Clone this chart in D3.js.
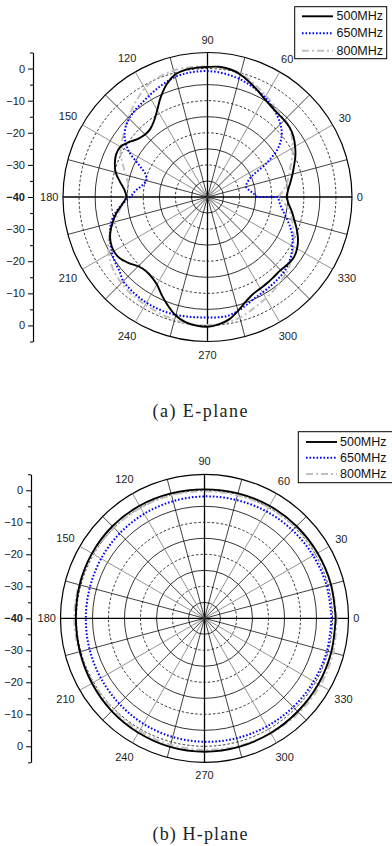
<!DOCTYPE html>
<html><head><meta charset="utf-8">
<script src="https://cdn.jsdelivr.net/npm/d3@7/dist/d3.min.js"></script>
<style>
html,body{margin:0;padding:0;background:#fff;}
svg{display:block;font-family:"Liberation Sans",Arial,sans-serif;}
</style></head><body>
<svg id="chart" width="392" height="846"></svg>
<script>
// ---------- data ----------
const seriesNames = ["500MHz", "650MHz", "800MHz"];

const eAngles = [0,5,10,15,20,25,30,35,40,45,50,55,60,65,70,75,80,85,90,95,100,105,110,115,120,125,130,135,140,145,150,155,160,165,170,175,180,185,190,195,200,205,210,215,220,225,230,235,240,245,250,255,260,265,270,275,280,285,290,295,300,305,310,315,320,325,330,335,340,345,350,355,360];

const e500 = [-15.4,-14.8,-13.8,-12.6,-11.3,-9.8,-8.5,-7.3,-6.5,-6.2,
  -6.0,-5.5,-4.6,-3.3,-1.9,-0.5,0.4,0.7,0.5,0.4,
  0.2,-0.6,-2.7,-5.6,-8.7,-11.0,-12.3,-12.5,-11.8,-10.2,
  -8.7,-8.6,-9.3,-10.4,-12.3,-14.0,-14.7,-13.3,-11.2,-9.4,
  -7.8,-6.7,-6.3,-6.7,-8.0,-9.5,-10.0,-9.6,-8.5,-6.3,
  -4.0,-1.8,-0.4,0.2,0.4,-0.2,-1.3,-3.3,-5.3,-6.6,
  -7.1,-7.4,-7.7,-7.8,-7.4,-7.2,-7.8,-8.9,-10.4,-12.0,
  -13.3,-14.6,-15.4];

const e650 = [-24.5,-25.8,-27.0,-27.6,-26.8,-24.8,-18.5,-13.0,-9.8,-7.9,
  -6.5,-5.3,-4.2,-3.4,-2.6,-1.9,-1.4,-1.0,-0.8,-0.8,
  -0.9,-1.3,-2.0,-2.8,-3.6,-4.3,-4.8,-5.5,-6.6,-8.6,
  -11.8,-16.5,-19.5,-20.3,-19.3,-17.5,-15.9,-13.3,-10.8,-8.9,
  -7.7,-6.6,-5.6,-4.8,-4.2,-2.9,-2.5,-2.2,-2.0,-1.9,
  -1.9,-2.0,-2.2,-2.4,-2.5,-2.4,-2.5,-3.3,-4.3,-5.2,
  -5.7,-6.0,-6.3,-6.6,-7.3,-8.2,-9.5,-10.8,-12.6,-14.5,
  -16.2,-17.4,-18.0];

const e800 = [-18.0,-16.3,-14.8,-13.8,-12.5,-10.9,-9.4,-7.9,-6.7,-5.9,
  -5.3,-4.5,-3.6,-2.5,-1.3,-0.1,0.4,0.6,0.6,0.7,
  0.8,0.8,0.5,0.0,-0.9,-2.3,-3.7,-5.2,-6.6,-7.8,
  -8.8,-10.3,-12.1,-13.7,-14.8,-15.0,-14.5,-13.2,-11.9,-9.8,
  -7.7,-5.9,-4.5,-3.4,-2.6,-2.1,-1.7,-1.5,-1.2,-1.0,
  -0.7,-0.4,-0.1,0.0,-0.1,-0.3,-0.6,-1.1,-2.0,-2.9,
  -3.6,-4.3,-5.0,-5.7,-6.7,-7.8,-9.1,-10.4,-11.6,-12.8,
  -14.0,-15.8,-18.0];

const hAngles = [0,15,30,45,60,75,90,105,120,135,150,165,180,195,210,225,240,255,270,285,300,315,330,345,360];
const h500 = [1.0,0.9,0.8,0.7,0.6,0.4,0.3,0.4,0.6,0.7,0.6,0.4,0.2,0.3,0.6,1.0,1.3,1.6,1.7,1.6,1.4,1.2,1.1,1.0,1.0];
const h650 = [-0.3,-0.5,-0.8,-1.1,-1.4,-1.7,-1.9,-2.1,-2.3,-2.5,-2.7,-2.9,-2.9,-2.8,-2.6,-2.3,-1.9,-1.6,-1.4,-1.2,-1.0,-0.8,-0.6,-0.4,-0.3];
const h800 = [1.3,1.0,0.6,0.3,0.0,-0.2,-0.3,-0.2,-0.1,0.0,0.3,0.6,0.7,0.5,0.2,0.3,0.6,0.9,1.1,1.3,1.5,1.7,1.8,1.6,1.3];

const angleLabels = [0,30,60,90,120,150,180,210,240,270,300,330];
const spokeAngles = [0,15,30,45,60,75,90,105,120,135,150,165,180,195,210,225,240,255,270,285,300,315,330,345];
const gridLevels = [-35,-30,-25,-20,-15,-10,-5,0,5];
const majorTicksTop = [0,-10,-20,-30,-40];
const majorTicksBottom = [0,-10,-20,-30];
const minorTicks = [5,-5,-15,-25,-35];
const radialDomain = [-40, 5];

// ---------- styles ----------
const styles = [
  {stroke: "#000000", width: 1.9, dash: null},
  {stroke: "#0000ff", width: 2.0, dash: "1.6,1.9"},
  {stroke: "#c0c0c0", width: 2.0, dash: "7,3,2,3"}
];

const svg = d3.select("#chart");

function drawPolar(o) {
  const g = svg.append("g");
  const r = d3.scaleLinear().domain(radialDomain).range([0, o.R]);
  const rad = d => d * Math.PI / 180;

  g.append("g").selectAll("circle").data(gridLevels).join("circle")
    .attr("cx", o.cx).attr("cy", o.cy).attr("r", d => r(d))
    .attr("fill", "none").attr("stroke", "#000")
    .attr("stroke-width", d => d === 5 ? 1.2 : 0.8)
    .attr("stroke-dasharray", d => (d % 10 === 0) ? "2.5,2" : null);

  g.append("g").selectAll("line").data(spokeAngles).join("line")
    .attr("x1", o.cx).attr("y1", o.cy)
    .attr("x2", d => o.cx + o.R * Math.cos(rad(d)))
    .attr("y2", d => o.cy - o.R * Math.sin(rad(d)))
    .attr("stroke", d => (d % 90 === 0) ? "#000" : (d % 30 === 0 ? "#777" : "#111"))
    .attr("stroke-width", d => (d % 90 === 0) ? 1.3 : 0.8);

  const line = d3.lineRadial()
    .angle(d => rad(90 - d[0]))
    .radius(d => r(d[1]))
    .curve(d3.curveCatmullRom);
  [2, 1, 0].forEach(i => {
    const vals = o.series[i];
    const pts = o.angles.map((a, j) => [a, vals[j]]);
    const s = styles[i];
    g.append("path")
      .attr("transform", `translate(${o.cx},${o.cy})`)
      .attr("d", line(pts) + "Z")
      .attr("fill", "none")
      .attr("stroke", s.stroke)
      .attr("stroke-width", s.width)
      .attr("stroke-dasharray", s.dash)
      .attr("stroke-linejoin", "round");
  });

  const labelR = d => {
    const c = Math.cos(rad(d)), sn = Math.sin(rad(d));
    const w = String(d).length * 5.8;
    return o.R + 5 + Math.abs(c) * w / 2 + Math.abs(sn) * 8;
  };
  g.append("g").selectAll("text").data(angleLabels).join("text")
    .attr("x", d => o.cx + labelR(d) * Math.cos(rad(d)))
    .attr("y", d => o.cy - labelR(d) * Math.sin(rad(d)))
    .attr("text-anchor", "middle")
    .attr("dominant-baseline", "central")
    .attr("font-size", 11).attr("fill", "#222")
    .text(d => d);

  const yTop = d3.scaleLinear().domain(radialDomain).range([o.cy, o.cy - o.R]);
  const yBot = d3.scaleLinear().domain(radialDomain).range([o.cy, o.cy + o.R]);
  const fmt = d3.format("d");
  [[yTop, majorTicksTop], [yBot, majorTicksBottom]].forEach(([sc, ticks]) => {
    const ax = g.append("g").attr("transform", `translate(${o.axisX},0)`)
      .call(d3.axisLeft(sc).tickValues(ticks).tickSize(5).tickSizeOuter(0).tickPadding(3).tickFormat(fmt));
    ax.select(".domain").attr("stroke-width", 1.2);
    ax.selectAll(".tick line").attr("stroke-width", 1);
    ax.selectAll(".tick text").attr("font-size", 11).attr("fill", "#222")
      .attr("font-family", '"Liberation Sans",Arial,sans-serif')
      .attr("font-weight", d => d === -40 ? "bold" : null);
    const mn = g.append("g").attr("transform", `translate(${o.axisX},0)`)
      .call(d3.axisLeft(sc).tickValues(minorTicks).tickSize(3).tickSizeOuter(0).tickFormat(""));
    mn.select(".domain").remove();
    mn.selectAll(".tick line").attr("stroke-width", 1);
  });

  const L = o.legend;
  const lg = g.append("g");
  lg.append("rect").attr("x", L.x).attr("y", L.y).attr("width", L.w).attr("height", L.h)
    .attr("fill", "#fff").attr("stroke", "#000").attr("stroke-width", 1);
  seriesNames.forEach((name, i) => {
    const s = styles[i];
    lg.append("line").attr("x1", L.lx1).attr("x2", L.lx2).attr("y1", L.rows[i]).attr("y2", L.rows[i])
      .attr("stroke", s.stroke).attr("stroke-width", s.width).attr("stroke-dasharray", s.dash);
    lg.append("text").attr("x", L.tx).attr("y", L.rows[i]).attr("dominant-baseline", "central")
      .attr("font-size", 12.5).attr("fill", "#111").text(name);
  });

  g.append("text").attr("x", o.caption.x).attr("y", o.caption.y)
    .attr("text-anchor", "middle")
    .attr("font-family", '"Liberation Serif","DejaVu Serif",serif')
    .attr("font-size", 18).attr("fill", "#222")
    .attr("textLength", 95).attr("lengthAdjust", "spacing")
    .text(o.caption.text);
}

drawPolar({
  cx: 207.5, cy: 197, R: 144.5, axisX: 33,
  angles: eAngles, series: [e500, e650, e800],
  legend: {x: 294.7, y: 6.7, w: 92, h: 52, rows: [16.3, 33.3, 50.7], lx1: 302, lx2: 333, tx: 336.5},
  caption: {text: "(a) E-plane", x: 200, y: 417}
});

drawPolar({
  cx: 204.5, cy: 618.3, R: 144, axisX: 31,
  angles: hAngles, series: [h500, h650, h800],
  legend: {x: 298.3, y: 431.7, w: 100, h: 51, rows: [442, 457.7, 474], lx1: 306, lx2: 337, tx: 340},
  caption: {text: "(b) H-plane", x: 200, y: 840}
});
</script>
</body></html>
